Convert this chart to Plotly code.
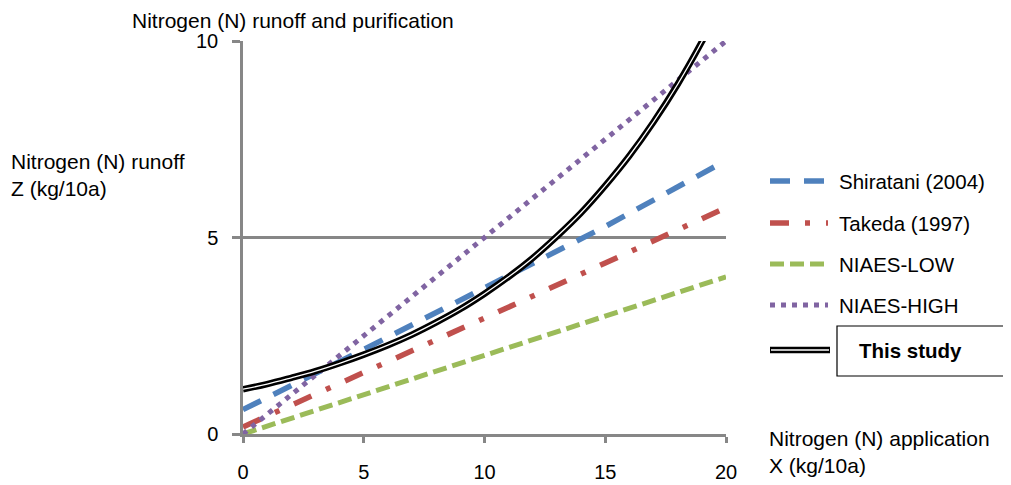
import plotly.graph_objects as go

# Nitrogen application X (kg/10a)
x_lin = [0, 5, 10, 15, 20]
shiratani = [0.62, 2.15, 3.72, 5.28, 6.96]
takeda = [0.18, 1.55, 2.95, 4.35, 5.76]
niaes_low = [0.0, 1.0, 2.0, 3.0, 4.0]
niaes_high = [0.0, 2.5, 5.0, 7.5, 10.0]

x_study = list(range(0, 21))
this_study = [1.14, 1.27, 1.43, 1.60, 1.80, 2.02, 2.26, 2.53, 2.84, 3.18,
              3.57, 4.00, 4.48, 5.03, 5.63, 6.32, 7.08, 7.94, 8.90, 9.98, 11.18]

x_ticks = [0, 5, 10, 15, 20]
y_ticks = [0, 5, 10]

names = ["Shiratani (2004)", "Takeda (1997)", "NIAES-LOW", "NIAES-HIGH", "This study"]
colors = ["#4F81BD", "#C0504D", "#9BBB59", "#8064A2", "#000000"]
dashes = ["20px,14px", "19px,16px,5px,16px", "14px,6px", "5px,6px", "solid"]
widths = [5.5, 5.5, 5, 5]

FONT = "Liberation Sans, Arial, sans-serif"
GRAY = "#878787"

fig = go.Figure()
series = [shiratani, takeda, niaes_low, niaes_high]
for s, c, d, w, n in zip(series, colors[:4], dashes[:4], widths, names[:4]):
    fig.add_trace(go.Scatter(x=x_lin, y=s, mode="lines", name=n,
                             line=dict(color=c, width=w, dash=d),
                             showlegend=False, hoverinfo="skip"))

# double line for "This study"
fig.add_trace(go.Scatter(x=x_study, y=this_study, mode="lines", name=names[4],
                         line=dict(color="#000000", width=6.5, shape="spline"),
                         showlegend=False, hoverinfo="skip"))
fig.add_trace(go.Scatter(x=x_study, y=this_study, mode="lines", name=names[4],
                         line=dict(color="#FFFFFF", width=1.3, shape="spline"),
                         showlegend=False, hoverinfo="skip"))

# plot area geometry in window pixels (page body has an 8px margin)
OFF = 8
L, R, T, B = 243, 726, 41, 434
WIN_W, WIN_H = 1011, 485
W, H = WIN_W - OFF, WIN_H - OFF


def px(xp):
    return (xp - L) / (R - L)


def py(yp):
    return (B - yp) / (B - T)


shapes = []
annotations = []
row_y = [181, 223, 264, 305, 350]
for i, (n, c, d) in enumerate(zip(names, colors, dashes)):
    yy = py(row_y[i])
    if i < 4:
        shapes.append(dict(type="line", xref="paper", yref="paper",
                           x0=px(770), x1=px(828), y0=yy, y1=yy,
                           line=dict(color=c, width=widths[i], dash=d)))
        annotations.append(dict(text=n, xref="paper", yref="paper", x=px(837), y=yy,
                                xanchor="left", yanchor="middle", showarrow=False,
                                font=dict(family=FONT, size=20.5, color="#000000")))
    else:
        shapes.append(dict(type="line", xref="paper", yref="paper",
                           x0=px(770), x1=px(830), y0=yy, y1=yy,
                           line=dict(color="#000000", width=6.5)))
        shapes.append(dict(type="line", xref="paper", yref="paper",
                           x0=px(771), x1=px(829), y0=yy, y1=yy,
                           line=dict(color="#FFFFFF", width=1.3)))
        shapes.append(dict(type="rect", xref="paper", yref="paper",
                           x0=px(837), x1=px(1030), y0=py(376), y1=py(326),
                           line=dict(color="#000000", width=1.2)))
        annotations.append(dict(text="<b>This study</b>", xref="paper", yref="paper",
                                x=px(857), y=yy, xanchor="left", yanchor="middle",
                                showarrow=False,
                                font=dict(family=FONT, size=20.5, color="#000000")))

annotations.append(dict(text="Nitrogen (N) runoff and purification", xref="paper", yref="paper",
                        x=px(131), y=py(20), xanchor="left", yanchor="middle", showarrow=False,
                        borderpad=0,
                        font=dict(family=FONT, size=21, color="#000000")))
annotations.append(dict(text="Nitrogen (N) runoff<br>Z (kg/10a)", xref="paper", yref="paper",
                        x=px(9), y=py(175), xanchor="left", yanchor="middle", showarrow=False,
                        align="left", font=dict(family=FONT, size=21, color="#000000")))
annotations.append(dict(text="Nitrogen (N) application<br>X (kg/10a)", xref="paper", yref="paper",
                        x=px(767), y=py(452), xanchor="left", yanchor="middle", showarrow=False,
                        align="left", font=dict(family=FONT, size=21, color="#000000")))

fig.update_layout(
    width=W, height=H,
    margin=dict(l=L - OFF, r=WIN_W - R, t=T - OFF, b=WIN_H - B, pad=0, autoexpand=False),
    paper_bgcolor="#FFFFFF", plot_bgcolor="#FFFFFF",
    shapes=shapes, annotations=annotations,
    font=dict(family=FONT, size=20, color="#000000"),
)
fig.update_xaxes(range=[0, 20], tickvals=x_ticks, showgrid=False, zeroline=False,
                 automargin=False,
                 showline=True, linecolor=GRAY, linewidth=2.5,
                 ticks="outside", ticklen=6, tickwidth=2.5, tickcolor=GRAY,
                 ticklabelstandoff=12,
                 tickfont=dict(family=FONT, size=20, color="#000000"))
fig.update_yaxes(range=[0, 10], tickvals=y_ticks, showgrid=True, gridcolor=GRAY, gridwidth=2.5,
                 zeroline=False, automargin=False,
                 showline=True, linecolor=GRAY, linewidth=2.5,
                 ticks="outside", ticklen=8, tickwidth=2.5, tickcolor=GRAY,
                 ticklabelstandoff=10,
                 tickfont=dict(family=FONT, size=20, color="#000000"))

fig.write_html("out.html")
